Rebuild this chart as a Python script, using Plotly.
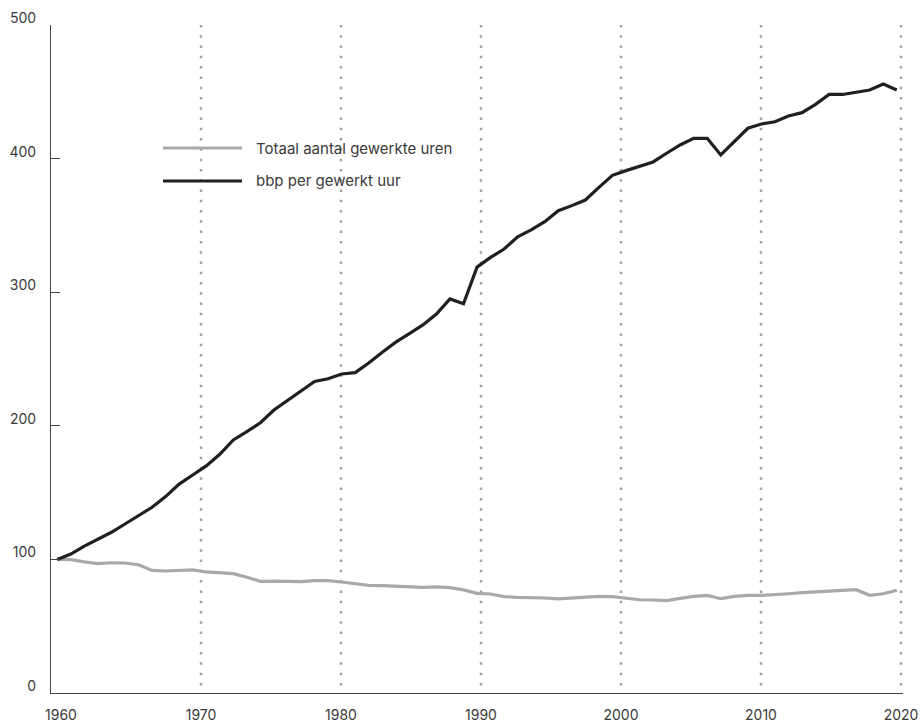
import plotly.graph_objects as go

# ---- data (index 1960 = 100) ----
years = list(range(1960, 2023))
uren = [100, 99.8, 98.1, 96.8, 97.5, 97.3, 96.0, 91.8, 91.3, 91.8,
        92.1, 90.6, 89.8, 89.3, 86.6, 83.6, 83.8, 83.3, 83.3, 84.1,
        84.1, 83.1, 82.1, 80.6, 80.3, 79.8, 79.6, 79.0, 79.4, 78.9,
        77.2, 74.6, 74.1, 72.1, 71.6, 71.6, 71.1, 70.4, 71.1, 71.9,
        72.3, 72.1, 71.1, 69.8, 69.6, 69.1, 70.8, 72.3, 73.1, 70.6,
        72.3, 73.1, 73.1, 73.4, 74.3, 75.1, 75.6, 76.3, 76.9, 77.3,
        73.1, 74.3, 76.9]
bbp_uur = [100, 104.0, 110, 115, 120.3, 126.5, 132.5, 139, 147, 156.4,
           163.2, 170, 178.7, 189.4, 195.6, 202.3, 211.8, 219, 226, 233.2,
           235.2, 238.8, 239.8, 247, 255, 262.6, 269, 275.5, 283.7, 295,
           291.4, 318.8, 326.1, 332.3, 341.5, 346.6, 352.8, 361, 364.8, 369,
           378.5, 387.5, 391, 394, 397.5, 404, 410.2, 415.2, 415.2, 402.7,
           412.7, 422.7, 425.9, 427.6, 431.9, 434.4, 440.6, 448, 448, 449.6,
           451.3, 455.8, 451.3]
series_names = ["Totaal aantal gewerkte uren", "bbp per gewerkt uur"]
series_colors = ["#a7a9ac", "#231f20"]
tick_years = [1960, 1970, 1980, 1990, 2000, 2010, 2020]
grid_years = [1970, 1980, 1990, 2000, 2010, 2020]
y_ticks = [0, 100, 200, 300, 400, 500]

FONT = "Inter"
TXT = "#3a3a3a"
W, H = 923, 723
ML, MR, MT, MB = 51, 20, 25, 30
PW, PH = W - ML - MR, H - MT - MB


def px(xp):
    return (xp - ML) / PW


def py(yp):
    return (H - MB - yp) / PH


fig = go.Figure()
for name, vals, col in zip(series_names, [uren, bbp_uur], series_colors):
    fig.add_trace(go.Scatter(x=years, y=vals, mode="lines", name=name,
                             xaxis="x2", line=dict(color=col, width=3.2),
                             showlegend=False, hoverinfo="skip"))

# dotted decade lines
for d in grid_years:
    fig.add_shape(type="line", xref="x", yref="y", x0=d, x1=d, y0=500, y1=0,
                  line=dict(color="#a3a3a3", width=2.5, dash="2.5px,7.78px"),
                  layer="below")

# legend (manual, white box masks the dotted lines)
fig.add_shape(type="rect", xref="paper", yref="paper",
              x0=px(150), x1=px(460), y0=py(199), y1=py(129),
              fillcolor="white", line=dict(width=0), layer="below")
for i, (name, col) in enumerate(zip(series_names, series_colors)):
    yy = 148 + 33 * i
    fig.add_shape(type="line", xref="paper", yref="paper",
                  x0=px(163), x1=px(242), y0=py(yy), y1=py(yy),
                  line=dict(color=col, width=3.2))
    fig.add_annotation(xref="paper", yref="paper", x=px(254), y=py(yy),
                       text=name, showarrow=False, xanchor="left",
                       yanchor="middle", font=dict(family=FONT, size=15, color=TXT))

fig.update_layout(
    width=W, height=H,
    margin=dict(l=ML, r=MR, t=MT, b=MB, autoexpand=False),
    paper_bgcolor="white", plot_bgcolor="white",
    showlegend=False,
    font=dict(family=FONT, size=14, color=TXT),
    xaxis=dict(range=[1960 - 10 / 14, 2020 + 2 / 14], tickvals=tick_years,
               ticktext=[str(t) for t in tick_years], showgrid=False,
               zeroline=False, showline=True, linecolor="#444", linewidth=1.2,
               ticks="", ticklabelstandoff=9, automargin=False,
               tickfont=dict(family=FONT, size=14, color=TXT)),
    xaxis2=dict(range=[1960 - 6.3 / 13.54, 1960 + 845.7 / 13.54],
                overlaying="x", visible=False),
    yaxis=dict(range=[0, 500], tickvals=y_ticks, showgrid=False, zeroline=False,
               showline=True, linecolor="#444", linewidth=1.2,
               ticks="inside", ticklen=9, tickcolor="#444", tickwidth=1.2,
               ticklabelstandoff=11, ticklabelshift=-7, automargin=False,
               tickfont=dict(family=FONT, size=14, color=TXT)),
)

fig.write_html("out.html", config={"displayModeBar": False},
               post_script="document.body.style.margin='0px';document.body.style.overflow='hidden';")
